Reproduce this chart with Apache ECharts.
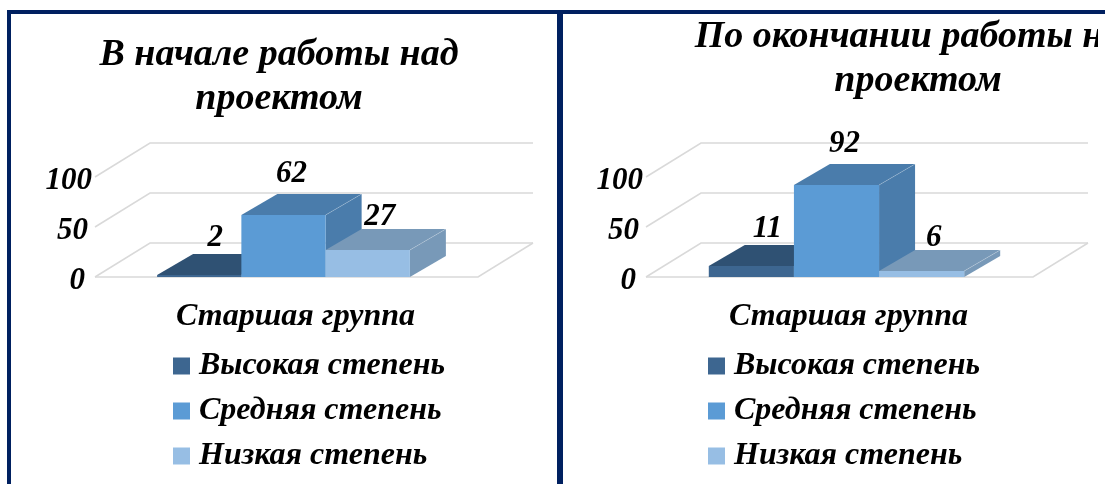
<!DOCTYPE html>
<html>
<head>
<meta charset="utf-8">
<style>
  html, body { margin: 0; padding: 0; background: #fff; overflow: hidden; }
  #chart { width: 1105px; height: 484px; }
</style>
<script src="https://cdn.jsdelivr.net/npm/echarts@6/dist/echarts.min.js"></script>
</head>
<body>
<div id="chart"></div>
<script>
const categories = ["Старшая группа"];
const seriesNames = ["Высокая степень", "Средняя степень", "Низкая степень"];
const startValues = [2, 62, 27];
const endValues = [11, 92, 6];
const yTicks = [0, 50, 100];
const titles = ["В начале работы над\nпроектом", "По окончании работы над\nпроектом"];

const FONT = '"Liberation Serif", "Times New Roman", serif';
const frontColors = ["#3d6690", "#5b9bd5", "#97bee4"];
const shadeColors = ["#2f5173", "#4a7cab", "#7899b8"];
const GRID_LINE = "#d9d9d9";
const NAVY = "#002060";

// depth of the 3D box
const WALL_DX = 55, WALL_DY = 34;
const BAR_DX = 36, BAR_DY = 21;
// value labels sit a bit differently per bar
const LABEL_DX = [16, 8, 12];
const LABEL_DY = [-37, -41, -33];

const textBase = { fontFamily: FONT, fontStyle: "italic", fontWeight: "bold", color: "#000" };

// walls and floor of the fake 3D chart
const renderWalls = (params, api) => {
  const tick = api.value(0);
  const size = api.size([1, 0])[0];
  const p = api.coord([0, tick]);
  const left = p[0] - size / 2;
  const y = p[1];
  const style = { stroke: GRID_LINE, lineWidth: 1.5, fill: null };
  const pts = [[left, y], [left + WALL_DX, y - WALL_DY], [left + size + WALL_DX, y - WALL_DY]];
  const children = [{ type: "polyline", shape: { points: pts }, style }];
  if (tick === 0) {
    children.push({
      type: "polyline",
      shape: { points: [[left, y], [left + size, y], [left + size + WALL_DX, y - WALL_DY]] },
      style,
    });
  }
  return { type: "group", children };
};

const makeBarRender = (idx) => (params, api) => {
  const val = api.value(1);
  const size = api.size([1, 0])[0];
  const base = api.coord([0, 0]);
  const top = api.coord([0, val]);
  const w = size * 0.22;
  const x0 = base[0] - 3 - w * 1.5 + idx * w;
  const x1 = x0 + w;
  const yb = base[1];
  const yt = top[1];
  const shade = shadeColors[idx];
  return {
    type: "group",
    children: [
      {
        type: "polygon",
        shape: { points: [[x1, yb], [x1 + BAR_DX, yb - BAR_DY], [x1 + BAR_DX, yt - BAR_DY], [x1, yt]] },
        style: { fill: shade },
      },
      {
        type: "polygon",
        shape: { points: [[x0, yt], [x0 + BAR_DX, yt - BAR_DY], [x1 + BAR_DX, yt - BAR_DY], [x1, yt]] },
        style: { fill: shade },
      },
      {
        type: "line",
        shape: { x1, y1: yt, x2: x1 + BAR_DX, y2: yt - BAR_DY },
        style: { stroke: "rgba(255,255,255,0.35)", lineWidth: 0.6 },
      },
      { type: "rect", shape: { x: x0, y: yt, width: w, height: yb - yt }, style: { fill: frontColors[idx] } },
      {
        type: "text",
        style: {
          text: String(val),
          x: (x0 + x1) / 2 + LABEL_DX[idx],
          y: yt + LABEL_DY[idx],
          align: "center",
          verticalAlign: "middle",
          font: 'italic bold 31px ' + FONT,
          fill: "#000",
        },
      },
    ],
  };
};

const panelSeries = (values, axisIndex) => {
  const walls = {
    type: "custom",
    name: "walls" + axisIndex,
    xAxisIndex: axisIndex,
    yAxisIndex: axisIndex,
    renderItem: renderWalls,
    encode: { x: 1, y: 0 },
    data: yTicks.map((t) => [t, 0]),
    clip: false,
    silent: true,
    z: 1,
  };
  const bars = seriesNames.map((name, i) => ({
    type: "custom",
    name,
    xAxisIndex: axisIndex,
    yAxisIndex: axisIndex,
    renderItem: makeBarRender(i),
    encode: { x: 0, y: 1 },
    data: [[0, values[i]]],
    itemStyle: { color: frontColors[i] },
    clip: false,
    z: 2 + i,
  }));
  return [walls, ...bars];
};

const xAxisFor = (gridIndex) => ({
  type: "category",
  gridIndex,
  data: categories,
  axisLine: { show: false },
  axisTick: { show: false },
  axisLabel: {
    ...textBase,
    fontSize: 32,
    margin: 24,
    padding: [0, 0, 0, 18],
  },
});

const yAxisFor = (gridIndex) => ({
  type: "value",
  gridIndex,
  min: 0,
  max: 100,
  interval: 50,
  axisLine: { show: false },
  axisTick: { show: false },
  splitLine: { show: false },
  axisLabel: {
    margin: 3,
    // labels step inwards towards the floor, like the original
    formatter: (v) => (v === 100 ? "{a|100}" : v === 50 ? "{b|50}" : "{c|0}"),
    rich: {
      a: { ...textBase, fontSize: 31, padding: [8, 0, 0, 0] },
      b: { ...textBase, fontSize: 31, padding: [8, 4, 0, 0] },
      c: { ...textBase, fontSize: 31, padding: [8, 7, 0, 0] },
    },
  },
});

const legendFor = (left) => ({
  orient: "vertical",
  left,
  top: 350,
  padding: 0,
  icon: "rect",
  itemWidth: 17,
  itemHeight: 17,
  itemGap: 13,
  data: seriesNames,
  selectedMode: false,
  textStyle: { ...textBase, fontSize: 32, padding: [0, 0, 0, 4] },
});

const option = {
  animation: false,
  backgroundColor: "#fff",
  title: [
    { text: titles[0], left: 274, top: 28, textAlign: "center", textStyle: { ...textBase, fontSize: 38, lineHeight: 44 } },
    { text: titles[1], left: 913, top: 10, textAlign: "center", textStyle: { ...textBase, fontSize: 38, lineHeight: 44 } },
  ],
  grid: [
    { left: 95, top: 177, width: 383, height: 100 },
    { left: 646, top: 177, width: 387, height: 100 },
  ],
  xAxis: [xAxisFor(0), xAxisFor(1)],
  yAxis: [yAxisFor(0), yAxisFor(1)],
  legend: [legendFor(173), legendFor(708)],
  series: [...panelSeries(startValues, 0), ...panelSeries(endValues, 1)],
  graphic: [
    { type: "rect", shape: { x: 7, y: 10, width: 1098, height: 4 }, style: { fill: NAVY } },
    { type: "rect", shape: { x: 7, y: 10, width: 4, height: 474 }, style: { fill: NAVY } },
    { type: "rect", shape: { x: 557, y: 10, width: 6, height: 474 }, style: { fill: NAVY } },
    // the original title is cut off at the right edge
    { type: "rect", z: 20, shape: { x: 1098, y: 15, width: 7, height: 45 }, style: { fill: "#fff" } },
  ],
};

const chart = echarts.init(document.getElementById("chart"));
chart.setOption(option);
</script>
</body>
</html>
